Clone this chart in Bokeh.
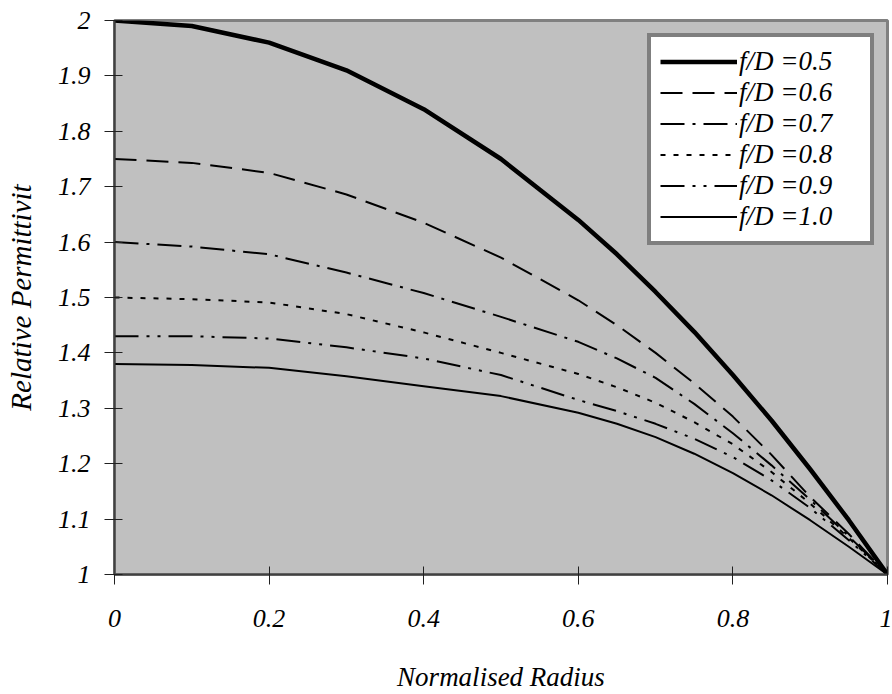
from bokeh.plotting import figure
from bokeh.models import Range1d, FixedTicker, Legend, LegendItem
from bokeh.embed import file_html
from bokeh.resources import INLINE

# Normalised radius samples
radius = [0.0, 0.1, 0.2, 0.3, 0.4, 0.5, 0.6, 0.65, 0.7, 0.75, 0.8, 0.85, 0.9, 0.95, 1.0]

# Relative permittivity profiles for each focal ratio
eps_fd05 = [2.000, 1.990, 1.960, 1.910, 1.840, 1.750, 1.640, 1.578, 1.510, 1.438, 1.360, 1.278, 1.190, 1.098, 1.000]
eps_fd06 = [1.750, 1.743, 1.725, 1.686, 1.635, 1.572, 1.495, 1.450, 1.400, 1.345, 1.285, 1.216, 1.140, 1.073, 1.000]
eps_fd07 = [1.600, 1.592, 1.578, 1.545, 1.508, 1.465, 1.420, 1.390, 1.355, 1.308, 1.255, 1.197, 1.135, 1.069, 1.000]
eps_fd08 = [1.500, 1.497, 1.491, 1.470, 1.437, 1.400, 1.362, 1.338, 1.310, 1.275, 1.235, 1.185, 1.128, 1.066, 1.000]
eps_fd09 = [1.430, 1.430, 1.426, 1.410, 1.390, 1.360, 1.315, 1.295, 1.272, 1.245, 1.212, 1.170, 1.120, 1.062, 1.000]
eps_fd10 = [1.380, 1.378, 1.373, 1.358, 1.340, 1.322, 1.292, 1.272, 1.248, 1.218, 1.183, 1.143, 1.098, 1.050, 1.000]

series_labels = ["f/D =0.5", "f/D =0.6", "f/D =0.7", "f/D =0.8", "f/D =0.9", "f/D =1.0"]

x_ticks = [0, 0.2, 0.4, 0.6, 0.8, 1]
x_tick_labels = ["0", "0.2", "0.4", "0.6", "0.8", "1"]
y_ticks = [1, 1.1, 1.2, 1.3, 1.4, 1.5, 1.6, 1.7, 1.8, 1.9, 2]
y_tick_labels = ["1", "1.1", "1.2", "1.3", "1.4", "1.5", "1.6", "1.7", "1.8", "1.9", "2"]

FONT = "Liberation Serif"

p = figure(width=892, height=694,
           x_range=Range1d(0, 1), y_range=Range1d(1, 2),
           output_backend="svg", toolbar_location=None,
           min_border_left=114, min_border_right=5,
           min_border_top=20, min_border_bottom=120)

p.background_fill_color = "#c0c0c0"
p.border_fill_color = "white"
p.outline_line_color = "#808080"
p.outline_line_width = 3
p.xgrid.visible = False
p.ygrid.visible = False

# Axes
for ax in (p.xaxis[0], p.yaxis[0]):
    ax.axis_line_color = "#404040"
    ax.axis_line_width = 2
    ax.major_tick_line_color = "#202020"
    ax.major_tick_line_width = 1
    ax.major_tick_in = 8
    ax.major_tick_out = 10
    ax.minor_tick_line_color = None
    ax.major_label_text_font = FONT
    ax.major_label_text_font_style = "italic"
    ax.major_label_text_font_size = "26px"
    ax.major_label_text_color = "black"
    ax.axis_label_text_font = FONT
    ax.axis_label_text_font_style = "italic"
    ax.axis_label_text_color = "black"

p.xaxis.ticker = FixedTicker(ticks=x_ticks)
p.xaxis.major_label_overrides = {t: s for t, s in zip(x_ticks, x_tick_labels)}
p.xaxis.major_label_standoff = 25
p.xaxis.axis_label = "Normalised Radius"
p.xaxis.axis_label_text_font_size = "27px"
p.xaxis.axis_label_standoff = 32

p.yaxis.ticker = FixedTicker(ticks=y_ticks)
p.yaxis.major_label_overrides = {t: s for t, s in zip(y_ticks, y_tick_labels)}
p.yaxis.major_label_standoff = 14
p.yaxis.axis_label = "Relative Permittivit"
p.yaxis.axis_label_text_font_size = "29px"
p.yaxis.axis_label_standoff = 18

# Curves
styles = [
    (eps_fd05, 4.5, "solid"),
    (eps_fd06, 2, "22 10"),
    (eps_fd07, 2, "24 8 3 8"),
    (eps_fd08, 2, "5 8"),
    (eps_fd09, 2, "24 8 3 8 3 8"),
    (eps_fd10, 2, "solid"),
]

items = []
for (ys, lw, dash), lab in zip(styles, series_labels):
    r = p.line(radius, ys, line_color="black", line_width=lw, line_dash=dash,
               line_join="round")
    items.append(LegendItem(label=lab, renderers=[r]))

legend = Legend(items=items, location="top_right")
legend.margin = 13
legend.padding = 9
legend.spacing = 0
legend.label_height = 29
legend.glyph_height = 29
legend.glyph_width = 77
legend.label_width = 122
legend.label_standoff = 2
legend.label_text_font = FONT
legend.label_text_font_style = "italic"
legend.label_text_font_size = "27px"
legend.label_text_color = "black"
legend.background_fill_color = "white"
legend.background_fill_alpha = 1
legend.border_line_color = "black"
legend.border_line_width = 4
p.add_layout(legend)

open("out.html", "w").write(file_html(p, INLINE))
